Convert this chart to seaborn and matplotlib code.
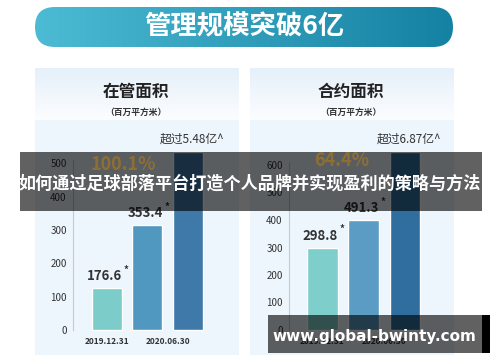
import numpy as np
import pandas as pd
import matplotlib.pyplot as plt
from matplotlib.patches import Rectangle, FancyBboxPatch
from matplotlib.colors import LinearSegmentedColormap
import seaborn as sns

sns.set_style('white')
plt.rcParams['font.family'] = ['Noto Sans CJK SC', 'DejaVu Sans']

# texts
header = '管理规模突破6亿'
banner = '如何通过足球部落平台打造个人品牌并实现盈利的策略与方法'
watermark = 'www.global-bwinty.com'
panel_titles = ['在管面积', '合约面积']
unit = '（百万平方米）'
growth = ['100.1%', '64.4%']

# data (bar heights, labels as printed)
bar_ids = ['a', 'b', 'c']
date_ticks = ['2019.12.31', '2020.06.30']
managed_height = [125, 315, 534]
managed_text = ['176.6', '353.4', '超过5.48亿^']
contract_height = [300, 400, 647]
contract_text = ['298.8', '491.3', '超过6.87亿^']
managed_colors = ['#7ccdc9', '#5198c0', '#3f79aa']
contract_colors = ['#7ecfcb', '#5b9cc4', '#2f6e9f']

fig = plt.figure(figsize=(5, 3.62), dpi=100)

# background layer in pixel coords
bg = fig.add_axes([0, 0, 1, 1], zorder=0)
bg.axis('off')

# header pill with gradient
hcmap = LinearSegmentedColormap.from_list('hdr', ['#4cbbd3', '#1581a3'])
im = bg.imshow(np.linspace(0, 1, 256).reshape(1, -1), extent=[35, 453, 47, 7],
               cmap=hcmap, aspect='auto')
pill = FancyBboxPatch((35, 7), 418, 40, boxstyle='round,pad=0,rounding_size=20',
                      fc='none', ec='none')
bg.add_patch(pill)
im.set_clip_path(pill)
bg.text(244, 27, header, fontsize=19, fontweight='bold', color='white',
        ha='center', va='center')

# panels
pcmap = LinearSegmentedColormap.from_list('pnl', ['#e5f0fa', '#fcfdff'])
for x0, title in zip([35, 250], panel_titles):
    bg.imshow(np.linspace(0, 1, 64).reshape(-1, 1), extent=[x0, x0 + 204, 120, 68],
              cmap=pcmap, aspect='auto')
    bg.add_patch(Rectangle((x0, 120), 204, 235, fc='#edf5fd', ec='none'))
    bg.text(x0 + 101, 92, title, fontsize=12, fontweight='bold', color='#222222',
            ha='center', va='center')
    bg.text(x0 + 101, 112, unit, fontsize=6.3, fontweight='bold', color='#333333',
            ha='center', va='center')

bg.set_xlim(0, 500)
bg.set_ylim(362, 0)


def draw_bars(rect, heights, texts, colors, xlim, ylim, step):
    ax = fig.add_axes(rect, zorder=2)
    ax.set_facecolor('none')
    df = pd.DataFrame({'id': bar_ids, 'h': heights})
    sns.barplot(data=df, x='id', y='h', hue='id', palette=colors, width=0.74,
                saturation=1, legend=False, ax=ax)
    for p in ax.patches:
        p.set_clip_on(False)
    ax.set_xlim(*xlim)
    ax.set_ylim(0, ylim)
    ax.set_yticks(range(0, ylim, step))
    ax.set_xticks([0, 1.5])
    ax.set_xticklabels(date_ticks, fontsize=6, fontweight='bold', color='#333333')
    ax.set_xlabel('')
    ax.set_ylabel('')
    for s in ['top', 'right', 'bottom']:
        ax.spines[s].set_visible(False)
    ax.spines['left'].set_color('#c2cad3')
    ax.spines['left'].set_linewidth(0.8)
    ax.tick_params(axis='y', length=3, width=0.8, color='#c2cad3', pad=1.5,
                   labelsize=7, labelcolor='#333333')
    ax.tick_params(axis='x', length=0, pad=5)
    for i, (h, t) in enumerate(zip(heights, texts)):
        if i < 2:
            ax.annotate(t, (i, h), xytext=(-1.5, 3.5), textcoords='offset points',
                        ha='center', va='bottom', fontsize=9.5, fontweight='bold',
                        color='#333333', annotation_clip=False)
            ax.annotate('*', (i, h), xytext=(14, 9.5), textcoords='offset points',
                        ha='center', va='bottom', fontsize=7, fontweight='bold',
                        color='#333333', annotation_clip=False)
        else:
            ax.annotate(t, (i, h), xytext=(3, 4.5), textcoords='offset points',
                        ha='center', va='bottom', fontsize=8.5, color='#333333',
                        annotation_clip=False)
    return ax


draw_bars([73 / 500, 32 / 362, 139 / 500, 170 / 362], managed_height, managed_text,
          managed_colors, (-0.84, 2.6), 510, 100)
draw_bars([289 / 500, 32 / 362, 141 / 500, 167.75 / 362], contract_height, contract_text,
          contract_colors, (-0.8, 2.6), 610, 100)

# overlay layer: banner and watermark
ov = fig.add_axes([0, 0, 1, 1], zorder=10)
ov.axis('off')
ov.set_xlim(0, 500)
ov.set_ylim(362, 0)
ov.add_patch(Rectangle((20, 152), 462, 59, fc='black', alpha=0.62, ec='none'))
ov.text(123, 165, growth[0], fontsize=13, fontweight='bold', color='#94712f',
        ha='center', va='center', alpha=0.9)
ov.text(342, 160, growth[1], fontsize=13, fontweight='bold', color='#94712f',
        ha='center', va='center', alpha=0.9)
ov.text(250, 184, banner, fontsize=12.3, fontweight='bold', color='white',
        ha='center', va='center')
ov.add_patch(Rectangle((268, 315), 214, 38, fc='black', alpha=0.62, ec='none'))
ov.add_patch(Rectangle((482, 315), 8, 38, fc='black', ec='none'))
ov.text(374, 336, watermark, fontsize=11, fontweight='bold', color='white',
        ha='center', va='center', family='DejaVu Sans')

fig.savefig('out.png', dpi=100)
